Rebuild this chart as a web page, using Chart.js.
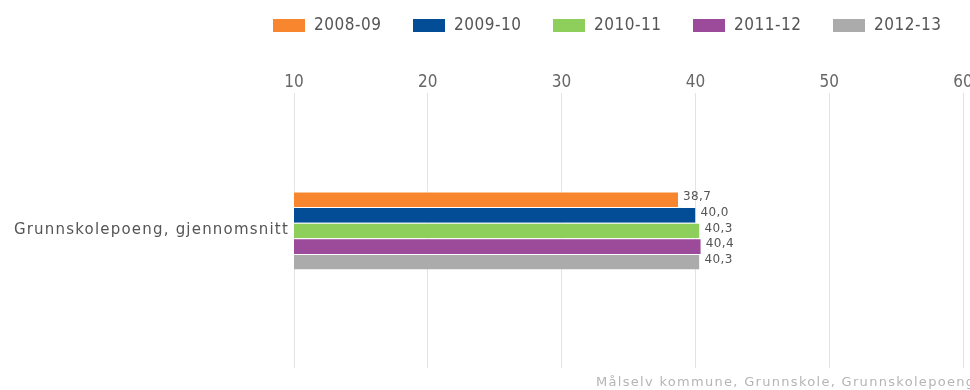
<!doctype html>
<html lang="no">
<head>
    <meta charset="utf-8">
    <title>Grunnskolepoeng</title>
    <script src="https://cdn.jsdelivr.net/npm/chart.js@4.4.1/dist/chart.umd.min.js"></script>
    <style>
        html, body { margin: 0; padding: 0; background: #fff; overflow: hidden; }
        .wrap { width: 1000px; height: 390px; position: relative; }
    </style>
</head>
<body>
<div class="wrap">
    <canvas id="chartCanvas" width="1000" height="390"></canvas>
</div>

<script>
    // data
    let categories = ["Grunnskolepoeng, gjennomsnitt"];
    let seriesLabels = ["2008-09", "2009-10", "2010-11", "2011-12", "2012-13"];
    let seriesValues = [[38.7], [40.0], [40.3], [40.4], [40.3]];
    let seriesColors = ["#f7862f", "#034c96", "#8dcf5a", "#9c4a9a", "#ababab"];
    let xTicks = [10, 20, 30, 40, 50, 60];
    let footerText = "Målselv kommune, Grunnskole, Grunnskolepoeng, gjennomsnitt";

    function fmt(v) {
        return v.toFixed(1).replace(".", ",");
    }

    // legend drawn by hand, right aligned like the original
    const legendPlugin = {
        id: 'legendTop',
        afterDraw(chart) {
            const ctx = chart.ctx;
            ctx.save();
            ctx.font = '17px "DejaVu Sans Condensed", "DejaVu Sans", sans-serif';
            ctx.letterSpacing = '0.5px';
            ctx.textBaseline = 'middle';
            let x = 273;
            chart.data.datasets.forEach(function (ds) {
                ctx.fillStyle = ds.backgroundColor;
                ctx.fillRect(x, 19, 32, 13);
                ctx.fillStyle = '#555';
                ctx.fillText(ds.label, x + 41, 26);
                x += 140;
            });
            ctx.restore();
        }
    };

    // category label drawn by hand so it can get the wide letter spacing
    const categoryLabels = {
        id: 'categoryLabels',
        afterDraw(chart) {
            const ctx = chart.ctx;
            const y = chart.scales.y;
            ctx.save();
            ctx.font = '15px "DejaVu Sans", sans-serif';
            ctx.letterSpacing = '1.2px';
            ctx.fillStyle = '#555';
            ctx.textAlign = 'right';
            ctx.textBaseline = 'middle';
            chart.data.labels.forEach(function (lab, i) {
                ctx.fillText(lab, 289, y.getPixelForValue(i));
            });
            ctx.restore();
        }
    };

    const valueLabels = {
        id: 'valueLabels',
        afterDatasetsDraw(chart) {
            const ctx = chart.ctx;
            ctx.save();
            ctx.font = '12px "DejaVu Sans", sans-serif';
            ctx.letterSpacing = '0.4px';
            ctx.fillStyle = '#555';
            ctx.textBaseline = 'middle';
            chart.data.datasets.forEach(function (ds, i) {
                chart.getDatasetMeta(i).data.forEach(function (bar, j) {
                    ctx.fillText(fmt(ds.data[j]), bar.x + 5, bar.y - 2);
                });
            });
            ctx.restore();
        }
    };

    const footer = {
        id: 'footer',
        afterDraw(chart) {
            const ctx = chart.ctx;
            ctx.save();
            ctx.font = '13px "DejaVu Sans", sans-serif';
            ctx.letterSpacing = '1.3px';
            ctx.fillStyle = '#b5b5b5';
            ctx.textBaseline = 'middle';
            ctx.fillText(footerText, 596, 383);
            ctx.restore();
        }
    };

    let datasets = seriesLabels.map(function (label, i) {
        return {
            label: label,
            data: seriesValues[i],
            backgroundColor: seriesColors[i],
            borderColor: '#ffffff',
            borderWidth: {top: 1, bottom: 0, left: 0, right: 0},
            borderSkipped: false,
            categoryPercentage: 0.284,
            barPercentage: 1.0
        };
    });

    new Chart(document.getElementById('chartCanvas'), {
        type: 'bar',
        data: {labels: categories, datasets: datasets},
        plugins: [legendPlugin, categoryLabels, valueLabels, footer],
        options: {
            indexAxis: 'y',
            responsive: false,
            animation: false,
            layout: {padding: {top: 53, bottom: 22, left: 0, right: 37}},
            plugins: {
                legend: {display: false},
                tooltip: {enabled: false}
            },
            scales: {
                x: {
                    position: 'top',
                    min: xTicks[0],
                    max: xTicks[xTicks.length - 1],
                    afterBuildTicks: function (scale) {
                        scale.ticks = xTicks.map(function (v) { return {value: v}; });
                    },
                    afterFit: function (scale) { scale.height = 40; },
                    grid: {color: '#e3e3e3', lineWidth: 1, drawTicks: false},
                    border: {display: false},
                    ticks: {
                        padding: 0,
                        color: '#666',
                        font: {family: '"DejaVu Sans Condensed", "DejaVu Sans", sans-serif', size: 17}
                    }
                },
                y: {
                    afterFit: function (scale) { scale.width = 294; },
                    grid: {display: false},
                    border: {display: false},
                    ticks: {display: false}
                }
            }
        }
    });
</script>
</body>
</html>
